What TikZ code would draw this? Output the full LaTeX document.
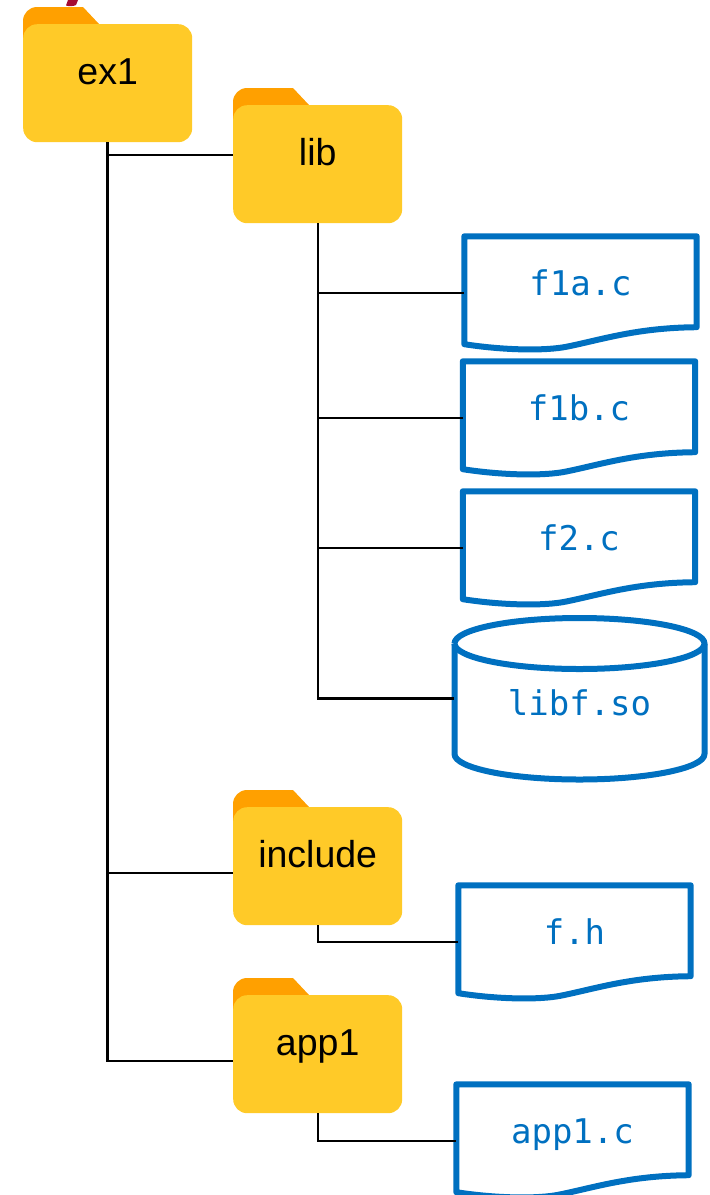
\documentclass[tikz,border=0pt]{standalone}
\usepackage{fontspec}
\setmainfont{Liberation Sans}
\setmonofont{DejaVu Sans Mono}
\definecolor{folderbody}{HTML}{FFCA28}
\definecolor{foldertab}{HTML}{FFA000}
\definecolor{fileblue}{HTML}{0070C0}
\definecolor{cropred}{HTML}{A50B32}
\tikzset{
  folderbody/.style={fill=folderbody,rounded corners=14pt,inner sep=0pt,anchor=north west,
    text width=169pt,align=center,text height=60.5pt,text depth=57.5pt,font=\fontsize{37.5}{42}\selectfont,text=black},
  foldertab/.style={fill=foldertab},
  filebox/.style={inner sep=0pt,text width=232pt,align=center,text height=58.5pt,text depth=54.5pt,
    font=\ttfamily\fontsize{34}{40}\selectfont,text=fileblue},
  cylbox/.style={inner sep=0pt,text width=250pt,align=center,text height=99pt,text depth=66pt,
    font=\ttfamily\fontsize{34}{40}\selectfont,text=fileblue},
  outline/.style={draw=fileblue,line width=6pt,line join=round},
  wire/.style={draw=black,line width=2.2pt},
}
\newcommand{\folderat}[4]{%
  \begin{scope}[shift={(#2,#3)}]
    \fill[foldertab] (0,30) -- (0,-3) arc[start angle=180,end angle=90,radius=14pt] -- (60,-17) -- (76,0) -- (76,30) -- cycle;
    \node[folderbody] (#1) at (0,0) {#4};
  \end{scope}}
\newcommand{\fileat}[4]{%
  \node[filebox] (#1) at (#2,#3) {#4};
  \draw[outline] (#1.north west) -- (#1.north east) -- ([yshift=22.5pt]#1.south east)
    .. controls ([xshift=-60pt,yshift=22pt]#1.south east) and ([xshift=-95pt,yshift=10pt]#1.south east) .. ([xshift=-130pt,yshift=3pt]#1.south east)
    .. controls ([xshift=-150pt,yshift=-1pt]#1.south east) and ([xshift=-190pt,yshift=-1pt]#1.south east) .. ([yshift=5.5pt]#1.south west) -- cycle;}
\begin{document}
\begin{tikzpicture}[x=1pt,y=-1pt]
  \useasboundingbox (0,0) rectangle (710,1195);
  \clip (0,0) rectangle (710,1195);
  % cropped fragment at the top edge
  \fill[cropred] (68,0) -- (78,0) -- (76,5) .. controls (73,6.5) and (69,6.5) .. (66,5.5) -- cycle;
  % folders
  \folderat{ex1}{23}{24}{ex1}
  \folderat{lib}{233}{105}{lib}
  \folderat{include}{233}{807}{include}
  \folderat{app1}{233}{995}{app1}
  % files
  \fileat{f1a}{580.5}{293}{f1a.c}
  \fileat{f1b}{579}{418}{f1b.c}
  \fileat{f2}{579}{548}{f2.c}
  \fileat{fh}{574.5}{942}{f.h}
  \fileat{appc}{572.5}{1141}{app1.c}
  % library cylinder
  \node[cylbox] (libf) at (579.5,698.5) {libf.so};
  \draw[outline] (454.5,643.5) arc[start angle=180,end angle=0,x radius=125pt,y radius=25.5pt]
     arc[start angle=0,end angle=-180,x radius=125pt,y radius=25.5pt];
  \draw[outline] (454.5,643.5) -- (454.5,754)
     arc[start angle=180,end angle=360,x radius=125pt,y radius=25.5pt] -- (704.5,643.5);
  % connector ends
  \coordinate (libin) at (233,155);
  \coordinate (incin) at (233,873);
  \coordinate (appin) at (233,1061);
  \coordinate (exout) at (107.5,142);
  \coordinate (libout) at (318,223);
  \coordinate (incout) at (318,925);
  \coordinate (appout) at (318,1113);
  % connectors
  \draw[wire] (exout) |- (libin);
  \draw[wire] (exout) |- (incin);
  \draw[wire] (exout) |- (appin);
  \draw[wire] (libout) |- (f1a.west);
  \draw[wire] (libout) |- (f1b.west);
  \draw[wire] (libout) |- (f2.west);
  \draw[wire] (libout) |- (libf.west);
  \draw[wire] (incout) |- (fh.west);
  \draw[wire] (appout) |- (appc.west);
\end{tikzpicture}
\end{document}
